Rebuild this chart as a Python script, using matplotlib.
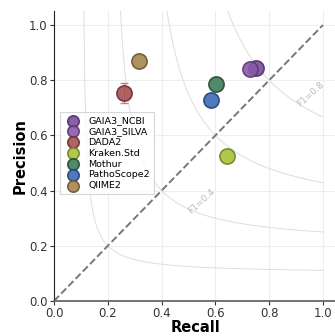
import numpy as np
import matplotlib.pyplot as plt

tools = ["GAIA3_NCBI", "GAIA3_SILVA", "DADA2", "Kraken.Std", "Mothur", "PathoScope2", "QIIME2"]
recall = [0.752, 0.730, 0.260, 0.642, 0.604, 0.582, 0.317]
precision = [0.844, 0.840, 0.754, 0.526, 0.786, 0.729, 0.870]
precision_err = [0.0, 0.0, 0.036, 0.0, 0.0, 0.0, 0.0]
colors = ["#7b4f9e", "#8a5aa8", "#a85256", "#a9c23c", "#3f7d59", "#3c6cb4", "#a88650"]
edges = ["#4f2f6e", "#5a3a78", "#6e2f33", "#6f8424", "#244e36", "#22447a", "#6e5530"]

f1_levels = [0.2, 0.4, 0.6, 0.8]

fig = plt.figure(figsize=(3.35, 3.36), dpi=100)
ax = fig.add_axes([54 / 335, 35 / 336, 1.05 * 269 / 335, 1.05 * 276 / 336])

# iso-F1 curves
for f in f1_levels:
    r = np.linspace(0.01, 1, 200)
    p = f * r / (2 * r - f)
    ok = p >= 0
    ax.plot(r[ok], p[ok], color="#dddddd", lw=0.7, zorder=1)
ax.text(0.55, 0.36, "F1=0.4", rotation=42, color="#bbbbbb", fontsize=6.5,
        ha="center", va="center", zorder=1)
ax.text(0.955, 0.75, "F1=0.8", rotation=42, color="#bbbbbb", fontsize=6.5,
        ha="center", va="center", zorder=1)

ax.plot([0, 1], [0, 1], ls="--", color="#777777", lw=1.4, zorder=2)

for i, name in enumerate(tools):
    if precision_err[i] > 0:
        ax.errorbar(recall[i], precision[i], yerr=precision_err[i], fmt="none",
                    ecolor="#a85256", elinewidth=0.8, capsize=3, alpha=0.7, zorder=3)
    ax.scatter(recall[i], precision[i], s=120, color=colors[i], edgecolor=edges[i],
               linewidth=1.2, alpha=0.9, label=name, zorder=4)

ax.set_xlim(0, 1.05)
ax.set_ylim(0, 1.05)
ax.set_xticks([0, 0.2, 0.4, 0.6, 0.8, 1.0])
ax.set_yticks([0, 0.2, 0.4, 0.6, 0.8, 1.0])
ax.tick_params(labelsize=8.5, colors="#333333", length=3, pad=1.5)
ax.grid(True, color="#eeeeee", lw=0.8, zorder=0)
ax.set_axisbelow(True)
for s in ["top", "right"]:
    ax.spines[s].set_visible(False)
ax.spines["left"].set_color("#222222")
ax.spines["bottom"].set_color("#666666")
ax.spines["bottom"].set_linewidth(1.3)

ax.set_xlabel("Recall", fontsize=10.5, fontweight="bold", labelpad=0)
ax.set_ylabel("Precision", fontsize=10.5, fontweight="bold", labelpad=1)

leg = ax.legend(loc="center left", bbox_to_anchor=(0.005, 0.51), fontsize=6.8,
                frameon=True, borderpad=0.4, labelspacing=0.2, handletextpad=0.6,
                markerscale=0.75, fancybox=False)
leg.get_frame().set_edgecolor("#cccccc")
leg.get_frame().set_linewidth(0.8)

fig.savefig("out.png", dpi=100)
